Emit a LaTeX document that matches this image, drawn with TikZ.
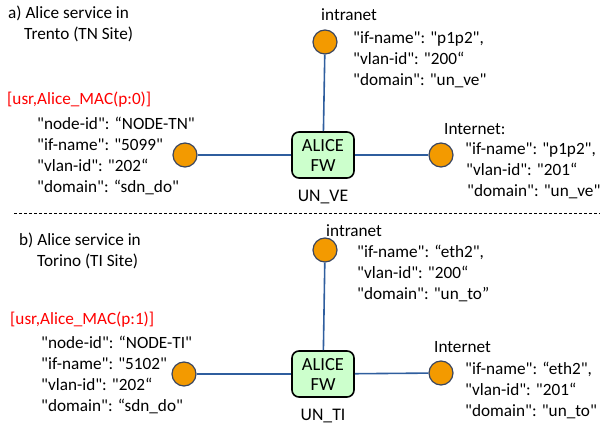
\documentclass[tikz,border=0pt]{standalone}
\usepackage{fontspec}
\setmainfont{Carlito}[Ligatures=TeXOff]
\usetikzlibrary{positioning}

\definecolor{portorange}{HTML}{F39A00}
\definecolor{portedge}{HTML}{3A4660}
\definecolor{linkblue}{HTML}{2F5E9E}
\definecolor{fwgreen}{HTML}{CCFFCC}

\tikzset{
  port/.style={circle, draw=portedge, line width=1.2pt, fill=portorange, minimum size=24pt, inner sep=0pt},
  fwbox/.style={draw, rounded corners=7pt, line width=1.6pt, fill=fwgreen, minimum width=62pt, minimum height=46pt, align=center, font=\fontsize{18.5}{20}\selectfont},
  link/.style={draw=linkblue, line width=1.6pt},
  txt/.style={anchor=north west, inner sep=0pt, align=left, font=\fontsize{17.2}{21}\selectfont},
  usr/.style={txt, text=red},
  unlbl/.style={font=\fontsize{17.7}{20}\selectfont, inner sep=0pt},
  sepline/.style={dash pattern=on 3pt off 2pt, line width=0.6pt},
}

\begin{document}
\begin{tikzpicture}[x=1pt,y=-1pt]
  \useasboundingbox (0,0) rectangle (606,428);

  % a) Trento
  \node[txt] (hdA) at (8,6) {a) Alice service in\\\hspace*{16pt}Trento (TN Site)};
  \node[port] (portA) at (185,155) {};
  \node[fwbox] (fwA) at (323,155) {ALICE\\FW};
  \node[port] (intA) at (325,42) {};
  \node[port] (netA) at (441,155) {};
  \node[unlbl, below=11pt of fwA] (unA) {UN\_VE};

  \draw[link] (portA) -- (fwA);
  \draw[link] (intA) -- (fwA);
  \draw[link] (fwA) -- (netA);

  \node[usr] (usrA) at (7,92) {[usr,Alice\_MAC(p:0)]};
  \node[txt] (infoA) at (37,117) {"node-id": “NODE-TN"\\"if-name": "5099"\\"vlan-id": "202“\\"domain": “sdn\_do"};
  \node[txt] (lblIntA) at (321,8) {intranet};
  \node[txt] (infoIntA) at (353,31) {"if-name": "p1p2",\\"vlan-id": "200“\\"domain": "un\_ve"};
  \node[txt] (lblNetA) at (444,123) {Internet:};
  \node[txt] (infoNetA) at (465,142) {"if-name": "p1p2",\\\hspace*{1pt}"vlan-id": "201“\\\hspace*{2pt}"domain": "un\_ve"};

  % separator
  \coordinate (sepL) at (14,213);
  \coordinate (sepR) at (600,213);
  \draw[sepline] (sepL) -- (sepR);

  % b) Torino
  \node[txt] (hdB) at (19,233) {b) Alice service in\\\hspace*{18pt}Torino (TI Site)};
  \node[port] (portB) at (184,374) {};
  \node[fwbox] (fwB) at (323,374) {ALICE\\FW};
  \node[port] (intB) at (325,250) {};
  \node[port] (netB) at (441,373) {};
  \node[unlbl, below=11pt of fwB] (unB) {UN\_TI};

  \draw[link] (portB) -- (fwB);
  \draw[link] (intB) -- (fwB);
  \draw[link] (fwB) -- (netB);

  \node[usr] (usrB) at (10,312) {[usr,Alice\_MAC(p:1)]};
  \node[txt] (infoB) at (41,336) {"node-id": “NODE-TI"\\"if-name": "5102"\\"vlan-id": "202“\\"domain": “sdn\_do"};
  \node[txt] (lblIntB) at (326,224) {intranet};
  \node[txt] (infoIntB) at (357,245) {"if-name": “eth2",\\"vlan-id": "200“\\"domain": "un\_to”};
  \node[txt] (lblNetB) at (434,341) {Internet};
  \node[txt] (infoNetB) at (465,362) {"if-name": “eth2",\\"vlan-id": "201“\\"domain": "un\_to"};
\end{tikzpicture}
\end{document}
